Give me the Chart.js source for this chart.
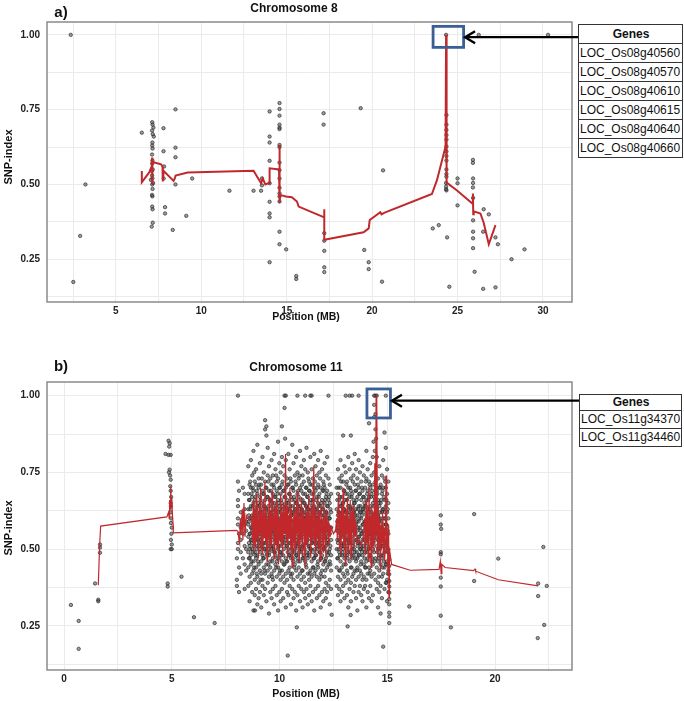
<!DOCTYPE html>
<html>
<head>
<meta charset="utf-8">
<script src="https://cdn.jsdelivr.net/npm/chart.js@4.4.0/dist/chart.umd.min.js"></script>
<style>
  body { margin: 0; background: #fff; font-family: 'Liberation Sans', Arial, sans-serif; }
  #wrap { position: relative; width: 684px; height: 701px; overflow: hidden; }
  canvas { position: absolute; left: 0; }
  .txt { position: absolute; transform: translate(-50%, -50%); white-space: nowrap; font-weight: bold; color: #111; }
  .rot { transform: translate(-50%, -50%) rotate(-90deg); }
  .genes { position: absolute; border: 1.5px solid #333; background: #fff; font-size: 12px; color: #111; }
  .genes div { box-sizing: border-box; border-top: 1.5px solid #333; padding-left: 1px; }
  .genes div.hd { border-top: none; text-align: center; font-weight: bold; }
</style>
</head>
<body>
<div id="wrap">
  <canvas id="chartA" width="684" height="330" style="top:0"></canvas>
  <canvas id="chartB" width="684" height="361" style="top:340px"></canvas>

  <div class="txt" style="left:61px;top:11px;font-size:15px">a)</div>
  <div class="txt" style="left:294px;top:8px;font-size:12px">Chromosome 8</div>
  <div class="txt rot" style="left:8px;top:157px;font-size:11px">SNP-index</div>
  <div class="txt" style="left:306px;top:316px;font-size:10.5px">Position (MB)</div>

  <div class="txt" style="left:61px;top:365px;font-size:15px">b)</div>
  <div class="txt" style="left:296px;top:367px;font-size:12px">Chromosome 11</div>
  <div class="txt rot" style="left:8px;top:528px;font-size:11px">SNP-index</div>
  <div class="txt" style="left:306px;top:693px;font-size:10.5px">Position (MB)</div>

  <div class="genes" id="genesA" style="left:578px;top:24px;width:103px"></div>
  <div class="genes" id="genesB" style="left:579px;top:394px;width:101px"></div>
</div>
<script>
// ---- chromosome 8 : SNP-index points ----
const chr8Pos = [2.36, 3.22, 2.91, 2.51, 6.52,
  7.13, 7.15, 7.12, 7.16, 7.14, 7.13, 7.15, 7.12, 7.14, 7.13, 7.16, 7.12, 7.14, 7.13, 7.15, 7.12, 7.14, 7.13, 7.15, 7.16, 7.10, 7.20, 7.22, 7.10, 7.18, 7.05,
  7.79, 7.79, 7.82, 7.80, 7.88, 7.88, 8.49, 8.49, 8.49, 8.49, 8.33, 9.12, 9.47,
  11.65, 13.06, 13.50, 13.55, 13.55,
  14.0, 14.0, 14.0, 14.0, 14.0, 14.0, 14.0, 14.0, 14.0,
  14.58, 14.58, 14.58, 14.58, 14.58, 14.58, 14.58, 14.58, 14.58, 14.58, 14.58, 14.58, 14.58, 14.58, 14.58, 14.58, 14.58,
  14.97, 15.56, 15.56, 17.16, 17.16, 17.2, 17.2, 17.2, 17.2, 17.2,
  19.33, 19.54, 19.8, 19.8, 20.58, 20.64, 23.55, 23.9, 24.39, 24.52,
  24.33, 24.35, 24.35, 24.35, 24.35, 24.35, 24.35, 24.35, 24.35, 24.35, 24.35, 24.35, 24.35, 24.33, 24.33, 24.33, 24.35,
  25.0, 25.0, 25.0, 25.9, 25.9, 25.91, 25.91, 25.9, 25.91, 25.91, 25.91, 25.91, 25.91, 26.0,
  26.24, 30.3, 26.53, 26.83, 26.5, 26.5, 27.22, 27.36, 27.22, 28.16, 28.92];
const chr8Snp = [1.0, 0.50, 0.328, 0.174, 0.673,
  0.708, 0.70, 0.68, 0.668, 0.64, 0.63, 0.62, 0.60, 0.58, 0.57, 0.55, 0.53, 0.52, 0.50, 0.485, 0.465, 0.46, 0.426, 0.417, 0.372, 0.359, 0.69, 0.66, 0.545, 0.505, 0.515,
  0.688, 0.611, 0.56, 0.52, 0.424, 0.403, 0.751, 0.623, 0.591, 0.50, 0.348, 0.395, 0.52,
  0.479, 0.479, 0.479, 0.52, 0.497,
  0.744, 0.66, 0.64, 0.579, 0.504, 0.442, 0.403, 0.39, 0.24,
  0.772, 0.752, 0.73, 0.70, 0.69, 0.685, 0.632, 0.625, 0.573, 0.548, 0.52, 0.489, 0.47, 0.46, 0.443, 0.342, 0.30,
  0.283, 0.194, 0.184, 0.738, 0.70, 0.337, 0.312, 0.278, 0.223, 0.207,
  0.755, 0.281, 0.24, 0.217, 0.175, 0.547, 0.353, 0.364, 0.323, 0.158,
  1.0, 0.732, 0.70, 0.682, 0.665, 0.65, 0.627, 0.61, 0.595, 0.58, 0.55, 0.535, 0.526, 0.505, 0.493, 0.484, 0.48,
  0.52, 0.504, 0.43, 0.582, 0.572, 0.52, 0.505, 0.49, 0.455, 0.38, 0.342, 0.32, 0.287, 0.208,
  1.0, 1.0, 0.417, 0.40, 0.342, 0.151, 0.323, 0.30, 0.156, 0.25, 0.283];

// chromosome 8 : sliding average (red line)
const chr8LinePos = [6.52, 6.52, 6.95, 7.1, 7.12, 7.13, 7.15, 7.65, 7.73, 7.75, 7.8, 8.38, 8.45, 8.5, 9.2, 13.06,
  13.5, 13.6, 13.75, 13.98, 14.0, 14.55, 14.57, 14.6, 14.62, 14.95, 15.3, 15.6, 15.7, 17.2, 17.2, 17.2,
  19.5, 19.8, 19.86, 20.48, 20.55, 20.7, 23.5, 23.8, 24.3, 24.33, 24.36, 24.5, 24.97, 25.85, 25.9, 25.92,
  25.95, 26.34, 26.53, 26.83, 27.22];
const chr8LineSnp = [0.545, 0.507, 0.54, 0.56, 0.59, 0.50, 0.575, 0.567, 0.56, 0.51, 0.545, 0.512, 0.52, 0.53, 0.54, 0.546,
  0.504, 0.52, 0.50, 0.505, 0.554, 0.55, 0.632, 0.438, 0.465, 0.46, 0.457, 0.443, 0.426, 0.39, 0.417, 0.315,
  0.34, 0.353, 0.381, 0.407, 0.40, 0.405, 0.468, 0.515, 0.627, 1.0, 0.505, 0.50, 0.48, 0.437, 0.47, 0.40,
  0.41, 0.403, 0.372, 0.30, 0.364];

// ---- chromosome 11 : sparse points ----
const chr11Pos = [0.32, 0.68, 0.68, 1.44, 1.59, 1.59, 1.67, 1.67, 1.67,
  4.81, 4.81, 4.71, 4.85, 4.9, 4.88, 4.95, 4.85, 4.9, 4.87, 4.92, 4.95, 4.93, 4.95, 4.97, 4.95, 4.96, 4.95, 4.97, 4.96, 5.0, 4.98, 4.96, 5.0, 4.95, 5.0,
  5.45, 6.03, 6.99, 8.86, 10.38, 10.8, 12.42, 13.16, 13.3, 14.81,
  15.09, 15.09, 15.09, 15.09, 15.09, 15.09, 15.09, 15.09, 15.09, 15.09, 15.09,
  16.02, 17.48, 17.48, 17.5, 17.48, 17.48, 17.48, 17.48, 17.48, 17.95, 19.03, 19.03, 20.15,
  22.24, 22.0, 22.4, 22.0, 22.28, 21.98];
const chr11Snp = [0.318, 0.266, 0.175, 0.388, 0.335, 0.33, 0.515, 0.505, 0.488,
  0.388, 0.378, 0.81, 0.853, 0.845, 0.834, 0.807, 0.807, 0.759, 0.75, 0.74, 0.726, 0.705, 0.69, 0.67, 0.65, 0.64, 0.62, 0.60, 0.585, 0.57, 0.55, 0.53, 0.515, 0.50, 0.50,
  0.41, 0.278, 0.259, 0.30, 0.153, 0.245, 0.286, 0.248, 0.285, 0.182,
  0.466, 0.445, 0.418, 0.396, 0.378, 0.358, 0.337, 0.32, 0.293, 0.28, 0.259,
  0.313, 0.61, 0.58, 0.566, 0.49, 0.483, 0.407, 0.378, 0.283, 0.245, 0.614, 0.396, 0.469,
  0.507, 0.388, 0.38, 0.347, 0.253, 0.21];

// chromosome 11 : dense region, one list of SNP-index values per position
const chr11ColPos = [8.02, 8.07, 8.12, 8.2, 8.3, 8.38, 8.45,
  8.55, 8.61, 8.67, 8.73, 8.79, 8.85, 8.91, 8.97, 9.03, 9.09, 9.15, 9.21, 9.27, 9.33, 9.39, 9.45, 9.51, 9.57,
  9.63, 9.69, 9.75, 9.81, 9.87, 9.93, 9.99, 10.05, 10.11, 10.17, 10.23, 10.29, 10.35, 10.41, 10.47, 10.53,
  10.59, 10.65, 10.71, 10.77, 10.83, 10.89, 10.95, 11.01, 11.07, 11.13, 11.19, 11.25, 11.31, 11.37, 11.43,
  11.49, 11.55, 11.61, 11.67, 11.73, 11.79, 11.85, 11.91, 11.97, 12.03, 12.09, 12.15, 12.21, 12.27, 12.33, 12.39,
  12.65, 12.71, 12.77, 12.83, 12.89, 12.95, 13.01, 13.07, 13.13, 13.19, 13.25, 13.31, 13.37, 13.43, 13.49,
  13.55, 13.61, 13.67, 13.73, 13.79, 13.85, 13.91, 13.97, 14.03, 14.09, 14.15, 14.21, 14.27, 14.33, 14.39,
  14.45, 14.51, 14.57, 14.63, 14.69, 14.75, 14.81, 14.87, 14.93, 14.99, 15.05];
const chr11ColSnp = [
  [0.47, 0.40, 0.38], [1.00, 0.72, 0.66, 0.64, 0.60, 0.58, 0.52, 0.50], [0.69, 0.55, 0.44, 0.36],
  [0.62, 0.57, 0.53, 0.49, 0.42], [0.70, 0.60, 0.55, 0.47], [0.68, 0.63, 0.58, 0.51, 0.45, 0.37], [0.59, 0.56, 0.50, 0.43],
  [0.77, 0.68, 0.63, 0.58, 0.54, 0.49, 0.44, 0.38], [0.71, 0.66, 0.60, 0.55, 0.51, 0.47, 0.41, 0.33],
  [0.79, 0.70, 0.64, 0.57, 0.53, 0.48, 0.45, 0.39], [0.74, 0.67, 0.61, 0.56, 0.52, 0.50, 0.42, 0.36],
  [0.82, 0.69, 0.65, 0.59, 0.54, 0.46, 0.43, 0.30], [0.72, 0.66, 0.62, 0.57, 0.55, 0.49, 0.40, 0.35],
  [0.76, 0.71, 0.63, 0.60, 0.53, 0.47, 0.44, 0.37], [0.84, 0.68, 0.64, 0.58, 0.51, 0.48, 0.41, 0.32],
  [0.73, 0.70, 0.61, 0.56, 0.52, 0.45, 0.39, 0.34], [0.78, 0.67, 0.62, 0.59, 0.54, 0.50, 0.43, 0.36],
  [0.71, 0.65, 0.60, 0.57, 0.53, 0.46, 0.42, 0.31], [0.80, 0.69, 0.63, 0.55, 0.51, 0.48, 0.40, 0.38],
  [0.75, 0.68, 0.64, 0.58, 0.52, 0.47, 0.44, 0.35], [0.92, 0.89, 0.72, 0.66, 0.61, 0.56, 0.50, 0.42, 0.37],
  [0.90, 0.87, 0.70, 0.63, 0.59, 0.54, 0.49, 0.45, 0.33], [0.83, 0.74, 0.67, 0.60, 0.55, 0.51, 0.43, 0.39],
  [0.77, 0.69, 0.62, 0.58, 0.53, 0.48, 0.41, 0.29], [0.73, 0.66, 0.61, 0.57, 0.52, 0.46, 0.44, 0.36],
  [0.79, 0.71, 0.64, 0.59, 0.54, 0.50, 0.42, 0.34], [0.74, 0.68, 0.62, 0.56, 0.51, 0.47, 0.40, 0.37],
  [0.81, 0.70, 0.65, 0.60, 0.55, 0.49, 0.43, 0.32], [0.76, 0.67, 0.63, 0.58, 0.53, 0.48, 0.45, 0.38],
  [0.72, 0.69, 0.61, 0.57, 0.52, 0.46, 0.41, 0.35], [0.85, 0.73, 0.66, 0.59, 0.54, 0.50, 0.44, 0.30],
  [0.78, 0.70, 0.64, 0.60, 0.55, 0.47, 0.42, 0.36], [0.75, 0.68, 0.62, 0.56, 0.51, 0.49, 0.40, 0.33],
  [0.90, 0.80, 0.71, 0.65, 0.58, 0.53, 0.46, 0.43, 0.37], [0.77, 0.69, 0.63, 0.59, 0.54, 0.48, 0.41, 0.34],
  [1.00, 0.96, 0.74, 0.67, 0.61, 0.56, 0.52, 0.45, 0.39], [1.00, 0.79, 0.70, 0.64, 0.58, 0.53, 0.47, 0.42, 0.31],
  [0.73, 0.66, 0.62, 0.57, 0.51, 0.46, 0.40, 0.36], [0.81, 0.71, 0.65, 0.60, 0.55, 0.50, 0.43, 0.35],
  [0.76, 0.68, 0.63, 0.58, 0.52, 0.48, 0.44, 0.38], [0.72, 0.67, 0.61, 0.56, 0.54, 0.47, 0.41, 0.32],
  [0.84, 0.70, 0.64, 0.59, 0.53, 0.49, 0.42, 0.37], [0.78, 0.69, 0.62, 0.57, 0.52, 0.46, 0.40, 0.34],
  [0.74, 0.66, 0.63, 0.60, 0.55, 0.50, 0.45, 0.36], [0.80, 0.71, 0.65, 0.58, 0.53, 0.48, 0.43, 0.30],
  [1.00, 0.75, 0.68, 0.62, 0.56, 0.51, 0.47, 0.41, 0.35], [0.73, 0.67, 0.61, 0.57, 0.52, 0.49, 0.44, 0.38],
  [0.82, 0.70, 0.64, 0.59, 0.54, 0.46, 0.42, 0.33], [0.77, 0.69, 0.63, 0.58, 0.53, 0.50, 0.40, 0.37],
  [0.74, 0.66, 0.62, 0.56, 0.51, 0.47, 0.43, 0.31], [0.79, 0.72, 0.65, 0.60, 0.55, 0.48, 0.41, 0.36],
  [1.00, 0.76, 0.68, 0.61, 0.57, 0.52, 0.46, 0.39, 0.34], [0.83, 0.70, 0.64, 0.59, 0.54, 0.49, 0.44, 0.37],
  [0.75, 0.67, 0.63, 0.58, 0.53, 0.47, 0.42, 0.32], [0.72, 0.69, 0.62, 0.56, 0.51, 0.48, 0.40, 0.35],
  [1.00, 0.80, 0.71, 0.65, 0.60, 0.55, 0.50, 0.43, 0.38], [1.00, 0.76, 0.68, 0.63, 0.57, 0.52, 0.46, 0.41, 0.33],
  [0.73, 0.66, 0.61, 0.58, 0.53, 0.49, 0.44, 0.36], [0.81, 0.70, 0.64, 0.59, 0.54, 0.47, 0.42, 0.30],
  [0.77, 0.69, 0.62, 0.57, 0.52, 0.48, 0.43, 0.37], [0.74, 0.67, 0.63, 0.60, 0.55, 0.50, 0.41, 0.34],
  [0.79, 0.71, 0.65, 0.58, 0.53, 0.46, 0.44, 0.38], [0.75, 0.68, 0.62, 0.56, 0.51, 0.49, 0.40, 0.35],
  [0.82, 0.70, 0.64, 0.59, 0.54, 0.47, 0.42, 0.31], [0.76, 0.66, 0.61, 0.57, 0.52, 0.48, 0.43, 0.36],
  [0.72, 0.69, 0.63, 0.58, 0.55, 0.50, 0.45, 0.33], [0.78, 0.70, 0.65, 0.60, 0.53, 0.46, 0.41, 0.37],
  [0.74, 0.67, 0.62, 0.56, 0.51, 0.47, 0.39, 0.34], [0.80, 0.69, 0.64, 0.59, 0.54, 0.49, 0.44, 0.36],
  [1.00, 0.73, 0.66, 0.61, 0.57, 0.52, 0.45, 0.38], [0.71, 0.65, 0.60, 0.55, 0.50, 0.46, 0.40, 0.32],
  [0.68, 0.62, 0.57, 0.53, 0.48, 0.43, 0.37],
  [0.70, 0.63, 0.56, 0.50, 0.44, 0.38], [0.76, 0.68, 0.61, 0.57, 0.52, 0.47, 0.41, 0.35],
  [0.73, 0.66, 0.62, 0.58, 0.53, 0.49, 0.43, 0.37], [0.79, 0.70, 0.64, 0.59, 0.54, 0.46, 0.40, 0.33],
  [0.74, 0.67, 0.61, 0.56, 0.51, 0.48, 0.44, 0.36], [0.87, 0.72, 0.65, 0.60, 0.55, 0.50, 0.42, 0.38],
  [0.77, 0.69, 0.63, 0.57, 0.52, 0.47, 0.41, 0.34], [1.00, 0.75, 0.68, 0.62, 0.58, 0.53, 0.45, 0.39],
  [0.72, 0.66, 0.60, 0.56, 0.51, 0.48, 0.43, 0.35], [0.80, 0.70, 0.64, 0.59, 0.54, 0.49, 0.40, 0.31],
  [1.00, 0.76, 0.67, 0.62, 0.57, 0.52, 0.46, 0.37], [0.87, 0.73, 0.69, 0.63, 0.58, 0.53, 0.44, 0.39, 0.33],
  [1.00, 0.78, 0.68, 0.61, 0.56, 0.50, 0.47, 0.41], [0.74, 0.66, 0.62, 0.57, 0.52, 0.48, 0.42, 0.36],
  [0.81, 0.71, 0.65, 0.60, 0.55, 0.49, 0.43, 0.38], [0.76, 0.69, 0.63, 0.58, 0.53, 0.46, 0.40, 0.34],
  [0.73, 0.67, 0.61, 0.56, 0.51, 0.47, 0.44, 0.30], [1.00, 0.79, 0.70, 0.64, 0.59, 0.54, 0.48, 0.41, 0.36],
  [0.75, 0.68, 0.62, 0.57, 0.52, 0.50, 0.43, 0.38], [0.72, 0.66, 0.60, 0.55, 0.51, 0.46, 0.42, 0.35],
  [0.77, 0.69, 0.63, 0.58, 0.53, 0.48, 0.40, 0.33], [0.74, 0.67, 0.62, 0.56, 0.50, 0.45, 0.41, 0.37],
  [0.70, 0.64, 0.59, 0.54, 0.49, 0.44, 0.38], [0.82, 0.73, 0.66, 0.61, 0.56, 0.51, 0.46, 0.40, 0.31],
  [0.76, 0.69, 0.63, 0.58, 0.53, 0.47, 0.42, 0.36], [0.91, 0.72, 0.67, 0.60, 0.55, 0.50, 0.44, 0.34],
  [0.78, 0.70, 0.64, 0.59, 0.54, 0.48, 0.43, 0.38], [0.74, 0.68, 0.62, 0.57, 0.52, 0.46, 0.41, 0.33],
  [0.80, 0.71, 0.65, 0.60, 0.55, 0.50, 0.45, 0.35], [1.00, 0.97, 0.93, 0.75, 0.67, 0.61, 0.56, 0.49, 0.42],
  [1.00, 0.94, 0.89, 0.72, 0.64, 0.58, 0.53, 0.47, 0.40], [1.00, 0.80, 0.69, 0.63, 0.57, 0.51, 0.44, 0.37],
  [0.73, 0.66, 0.61, 0.55, 0.50, 0.46, 0.39, 0.31], [0.77, 0.70, 0.64, 0.59, 0.54, 0.48, 0.43, 0.36],
  [0.71, 0.65, 0.60, 0.56, 0.52, 0.45, 0.38, 0.29], [0.74, 0.68, 0.62, 0.57, 0.51, 0.47, 0.41, 0.34],
  [0.79, 0.70, 0.63, 0.58, 0.53, 0.48, 0.42], [0.88, 0.73, 0.66, 0.60, 0.55, 0.49, 0.44, 0.37],
  [1.00, 0.83, 0.70, 0.64, 0.58, 0.52, 0.45, 0.39], [0.76, 0.68, 0.62, 0.57, 0.51, 0.46, 0.40, 0.33],
  [0.72, 0.65, 0.60, 0.55, 0.50, 0.43, 0.36]];

// chromosome 11 : extra points in the dense core (between the columns above)
const chr11Col2Pos = [8.58, 8.64, 8.70, 8.76, 8.82, 8.88, 8.94, 9.00, 9.06, 9.12, 9.18, 9.24, 9.30, 9.36, 9.42,
  9.48, 9.54, 9.60, 9.66, 9.72, 9.78, 9.84, 9.90, 9.96, 10.02, 10.08, 10.14, 10.20, 10.26, 10.32, 10.38,
  10.44, 10.50, 10.56, 10.62, 10.68, 10.74, 10.80, 10.86, 10.92, 10.98, 11.04, 11.10, 11.16, 11.22, 11.28,
  11.34, 11.40, 11.46, 11.52, 11.58, 11.64, 11.70, 11.76, 11.82, 11.88, 11.94, 12.00, 12.06, 12.12, 12.18,
  12.24, 12.30, 12.36,
  12.68, 12.74, 12.80, 12.86, 12.92, 12.98, 13.04, 13.10, 13.16, 13.22, 13.28, 13.34, 13.40, 13.46, 13.52,
  13.58, 13.64, 13.70, 13.76, 13.82, 13.88, 13.94, 14.00, 14.06, 14.12, 14.18, 14.24, 14.30, 14.36, 14.42,
  14.48, 14.54, 14.60, 14.66, 14.72, 14.78, 14.84, 14.90, 14.96, 15.02];
const chr11Col2Snp = [
  [0.66, 0.59, 0.52, 0.47, 0.61], [0.72, 0.63, 0.55, 0.50], [0.68, 0.60, 0.57, 0.46, 0.53], [0.64, 0.58, 0.49, 0.70],
  [0.75, 0.61, 0.56, 0.51, 0.44], [0.67, 0.60, 0.54, 0.48], [0.69, 0.62, 0.57, 0.50, 0.42], [0.65, 0.59, 0.53, 0.46],
  [0.71, 0.64, 0.56, 0.51], [0.66, 0.61, 0.55, 0.49, 0.40], [0.73, 0.62, 0.58, 0.52], [0.68, 0.60, 0.54, 0.47],
  [0.64, 0.59, 0.56, 0.50, 0.43], [0.70, 0.63, 0.57, 0.52], [0.67, 0.61, 0.55, 0.48], [0.72, 0.64, 0.58, 0.50, 0.45],
  [0.66, 0.60, 0.54, 0.49], [0.69, 0.62, 0.57, 0.51], [0.65, 0.59, 0.53, 0.46, 0.41], [0.71, 0.63, 0.56, 0.50],
  [0.67, 0.61, 0.55, 0.49], [0.74, 0.64, 0.58, 0.52, 0.44], [0.68, 0.60, 0.54, 0.47], [0.65, 0.62, 0.57, 0.51],
  [0.70, 0.63, 0.55, 0.49, 0.43], [0.66, 0.59, 0.53, 0.48], [0.72, 0.64, 0.58, 0.52], [0.69, 0.61, 0.56, 0.50, 0.45],
  [0.86, 0.67, 0.60, 0.54], [0.65, 0.62, 0.57, 0.51, 0.46], [0.71, 0.63, 0.55, 0.49], [0.68, 0.60, 0.54, 0.48],
  [0.73, 0.64, 0.58, 0.52, 0.42], [0.66, 0.61, 0.56, 0.50], [0.70, 0.62, 0.55, 0.47], [0.67, 0.59, 0.53, 0.49, 0.44],
  [0.72, 0.63, 0.57, 0.51], [0.65, 0.60, 0.54, 0.48], [0.69, 0.64, 0.58, 0.52, 0.46], [0.74, 0.62, 0.56, 0.50],
  [0.66, 0.61, 0.55, 0.49], [0.71, 0.63, 0.57, 0.51, 0.43], [0.68, 0.60, 0.54, 0.47], [0.65, 0.62, 0.56, 0.50],
  [0.70, 0.64, 0.58, 0.52, 0.45], [0.67, 0.59, 0.53, 0.48], [0.73, 0.63, 0.57, 0.51], [0.69, 0.61, 0.55, 0.49, 0.42],
  [0.66, 0.60, 0.54, 0.50], [0.71, 0.64, 0.58, 0.52], [0.68, 0.62, 0.56, 0.47, 0.44], [0.72, 0.63, 0.55, 0.50],
  [0.66, 0.60, 0.54, 0.48], [0.70, 0.61, 0.57, 0.51, 0.45], [0.67, 0.64, 0.58, 0.52], [0.73, 0.62, 0.56, 0.49],
  [0.65, 0.59, 0.53, 0.47, 0.41], [0.69, 0.63, 0.57, 0.51], [0.71, 0.61, 0.55, 0.50], [0.66, 0.60, 0.54, 0.46, 0.43],
  [0.68, 0.62, 0.56, 0.52], [0.64, 0.58, 0.53, 0.48], [0.67, 0.60, 0.55, 0.49], [0.63, 0.57, 0.51, 0.45],
  [0.66, 0.59, 0.53, 0.47], [0.70, 0.62, 0.56, 0.50], [0.67, 0.60, 0.55, 0.48, 0.43], [0.72, 0.64, 0.57, 0.52],
  [0.65, 0.61, 0.54, 0.49], [0.69, 0.63, 0.58, 0.51, 0.45], [0.66, 0.60, 0.55, 0.48], [0.71, 0.62, 0.56, 0.50],
  [0.68, 0.59, 0.53, 0.47, 0.42], [0.64, 0.61, 0.57, 0.52], [0.70, 0.63, 0.55, 0.49], [0.67, 0.60, 0.54, 0.48, 0.44],
  [0.72, 0.64, 0.58, 0.51], [0.65, 0.62, 0.56, 0.50], [0.69, 0.61, 0.55, 0.47], [0.66, 0.59, 0.53, 0.49, 0.43],
  [0.71, 0.63, 0.57, 0.52], [0.68, 0.60, 0.54, 0.48], [0.64, 0.62, 0.56, 0.50, 0.45], [0.70, 0.61, 0.55, 0.49],
  [0.67, 0.63, 0.58, 0.51], [0.65, 0.59, 0.53, 0.47], [0.72, 0.64, 0.57, 0.52, 0.44], [0.68, 0.60, 0.54, 0.49],
  [0.66, 0.62, 0.56, 0.50], [0.71, 0.63, 0.55, 0.48, 0.42], [0.67, 0.61, 0.57, 0.51], [0.69, 0.59, 0.53, 0.47],
  [0.85, 0.64, 0.58, 0.52], [0.82, 0.66, 0.60, 0.54, 0.46], [0.86, 0.70, 0.62, 0.55], [0.68, 0.61, 0.56, 0.49],
  [0.65, 0.60, 0.53, 0.47, 0.41], [0.70, 0.62, 0.57, 0.50], [0.66, 0.59, 0.54, 0.48], [0.69, 0.63, 0.55, 0.51, 0.44],
  [0.67, 0.60, 0.53, 0.46], [0.72, 0.62, 0.56, 0.50], [0.66, 0.58, 0.52, 0.45, 0.39], [0.63, 0.56, 0.49, 0.42]];

// chromosome 11 : sliding average (red line)
const chr11LinePos = [1.59, 1.65, 1.70, 4.77, 4.85, 4.88, 4.9, 4.93, 4.95, 4.97, 5.0, 5.03, 5.06, 5.07, 8.0, 8.07,
  8.12, 8.15, 8.18, 8.22, 8.27, 8.3, 8.35, 8.4, 8.45, 8.5, 8.7,
  8.75, 8.78, 8.81, 8.85, 8.88, 8.92, 8.95, 8.98, 9.02, 9.05, 9.08, 9.12, 9.15, 9.18, 9.22, 9.25, 9.28, 9.32,
  9.35, 9.38, 9.42, 9.45, 9.48, 9.52, 9.55, 9.58, 9.62, 9.65, 9.68, 9.72, 9.75, 9.78, 9.82, 9.85, 9.88, 9.92,
  9.95, 9.98, 10.02, 10.05, 10.08, 10.12, 10.15, 10.18, 10.22, 10.25, 10.28, 10.31, 10.35, 10.38, 10.42, 10.45,
  10.48, 10.52, 10.55, 10.58, 10.62, 10.65, 10.68, 10.72, 10.75, 10.78, 10.82, 10.85, 10.88, 10.92, 10.95,
  10.98, 11.02, 11.05, 11.08, 11.12, 11.15, 11.18, 11.22, 11.25, 11.28, 11.32, 11.35, 11.38, 11.42, 11.45,
  11.48, 11.52, 11.55, 11.59, 11.62, 11.65, 11.68, 11.72, 11.75, 11.78, 11.82, 11.85, 11.88, 11.92, 11.95,
  11.98, 12.02, 12.05, 12.08, 12.12, 12.15, 12.18, 12.22, 12.25, 12.28, 12.32, 12.36, 12.4, 12.5, 12.6,
  12.65, 12.68, 12.72, 12.75, 12.78, 12.82, 12.85, 12.88, 12.92, 12.95, 12.98, 13.02, 13.05, 13.08, 13.12,
  13.15, 13.18, 13.22, 13.25, 13.28, 13.32, 13.35, 13.38, 13.42, 13.45, 13.48, 13.52, 13.55, 13.6, 13.7,
  13.8, 13.9, 13.95, 13.98, 14.02, 14.05, 14.08, 14.12, 14.15, 14.18, 14.22, 14.25, 14.28, 14.32, 14.35,
  14.38, 14.42, 14.45, 14.48, 14.5, 14.52, 14.55, 14.58, 14.62, 14.65, 14.68, 14.72, 14.75, 14.78, 14.82,
  14.85, 14.88, 14.92, 14.94, 14.97, 15.0, 15.03, 15.06, 15.08, 15.1, 15.2,
  16.06, 17.4, 17.46, 17.5, 17.53, 17.68, 19.0, 19.07, 19.1, 20.15, 22.0];
const chr11LineSnp = [0.382, 0.51, 0.575, 0.605, 0.62, 0.60, 0.66, 0.63, 0.705, 0.64, 0.67, 0.61, 0.58, 0.553, 0.561, 0.558,
  0.53, 0.52, 0.60, 0.55, 0.63, 0.53, 0.65, 0.54, 0.61, 0.60, 0.605,
  0.52, 0.66, 0.49, 0.63, 0.51, 0.68, 0.53, 0.61, 0.47, 0.64, 0.55, 0.70, 0.50, 0.62, 0.48, 0.66, 0.54, 0.72,
  0.52, 0.63, 0.46, 0.60, 0.53, 0.67, 0.49, 0.62, 0.51, 0.69, 0.56, 0.61, 0.47, 0.64, 0.52, 0.66, 0.50, 0.63,
  0.45, 0.60, 0.53, 0.68, 0.51, 0.62, 0.48, 0.65, 0.55, 0.59, 0.81, 0.52, 0.64, 0.47, 0.61, 0.54,
  0.70, 0.50, 0.63, 0.44, 0.60, 0.52, 0.66, 0.49, 0.62, 0.55, 0.69, 0.51, 0.64, 0.46, 0.61,
  0.53, 0.67, 0.48, 0.63, 0.55, 0.60, 0.44, 0.65, 0.52, 0.62, 0.50, 0.68, 0.54, 0.61, 0.47,
  0.64, 0.53, 0.66, 0.77, 0.51, 0.63, 0.48, 0.60, 0.54, 0.67, 0.50, 0.62, 0.46, 0.64, 0.55,
  0.60, 0.49, 0.66, 0.53, 0.61, 0.47, 0.63, 0.56, 0.59, 0.51, 0.58, 0.54, 0.57, 0.55, 0.56,
  0.60, 0.53, 0.65, 0.68, 0.50, 0.62, 0.48, 0.64, 0.54, 0.70, 0.51, 0.61, 0.45, 0.63, 0.55,
  0.67, 0.49, 0.60, 0.53, 0.66, 0.47, 0.62, 0.56, 0.64, 0.50, 0.61, 0.54, 0.59, 0.52, 0.53,
  0.51, 0.55, 0.60, 0.48, 0.66, 0.52, 0.63, 0.46, 0.70, 0.55, 0.61, 0.44, 0.64, 0.51, 0.62,
  0.49, 0.78, 0.53, 1.00, 0.55, 1.00, 0.47, 0.64, 0.50, 0.60, 0.43, 0.58, 0.52, 0.62, 0.48,
  0.57, 0.46, 0.60, 0.74, 0.50, 0.56, 0.42, 0.58, 0.34, 0.50, 0.45,
  0.431, 0.434, 0.46, 0.42, 0.45, 0.44, 0.43, 0.435, 0.428, 0.40, 0.38];

const genesA = ['LOC_Os08g40560', 'LOC_Os08g40570', 'LOC_Os08g40610', 'LOC_Os08g40615', 'LOC_Os08g40640', 'LOC_Os08g40660'];
const genesB = ['LOC_Os11g34370', 'LOC_Os11g34460'];

const FONT = "'Liberation Sans', Arial, sans-serif";

function pairs(xs, ys) {
    return xs.map((x, i) => ({x: x, y: ys[i]}));
}

function columns(xs, cols) {
    const out = [];
    xs.forEach((x, i) => cols[i].forEach(v => out.push({x: x, y: v})));
    return out;
}

function fillGenes(id, names, headH, rowH) {
    const box = document.getElementById(id);
    let html = '<div class="hd" style="height:' + headH + 'px;line-height:' + headH + 'px">Genes</div>';
    names.forEach(n => {
        html += '<div style="height:' + rowH + 'px;line-height:' + (rowH - 1) + 'px">' + n + '</div>';
    });
    box.innerHTML = html;
}
fillGenes('genesA', genesA, 18, 19);
fillGenes('genesB', genesB, 15, 18);

// panel frame, highlight box and arrow
const panelDecor = {
    id: 'panelDecor',
    afterDatasetsDraw(chart, args, o) {
        const {ctx, chartArea: a, scales} = chart;
        ctx.save();
        ctx.strokeStyle = '#8a8a8a';
        ctx.lineWidth = 1.5;
        ctx.strokeRect(a.left, a.top, a.right - a.left, a.bottom - a.top);

        const px = scales.x.getPixelForValue(o.peakX);
        const py = scales.y.getPixelForValue(o.peakY);
        ctx.strokeStyle = '#3a5f95';
        ctx.lineWidth = 2.8;
        ctx.strokeRect(px + o.box[0], py + o.box[1], o.box[2] - o.box[0], o.box[3] - o.box[1]);

        const ay = py + o.arrowDy;
        const tip = px + o.box[2] + 1.5;
        ctx.strokeStyle = '#000';
        ctx.lineWidth = 2.4;
        ctx.beginPath();
        ctx.moveTo(o.arrowEnd, ay);
        ctx.lineTo(tip + 1, ay);
        ctx.stroke();
        ctx.beginPath();
        ctx.moveTo(tip + 10, ay - 6);
        ctx.lineTo(tip, ay);
        ctx.lineTo(tip + 10, ay + 6);
        ctx.stroke();
        ctx.restore();
    }
};

function makeChart(id, points, line, lineWidth, sc, decor) {
    return new Chart(document.getElementById(id), {
        type: 'scatter',
        data: {
            datasets: [{
                data: line,
                showLine: true,
                borderColor: '#c0282b',
                borderWidth: lineWidth,
                pointRadius: 0,
                order: 0
            }, {
                data: points,
                pointRadius: 1.7,
                pointBackgroundColor: 'rgba(60,60,60,0.5)',
                pointBorderColor: 'rgba(40,40,40,0.85)',
                pointBorderWidth: 0.8,
                order: 1
            }]
        },
        options: {
            responsive: false,
            animation: false,
            devicePixelRatio: 1,
            layout: {padding: {top: sc.padTop, right: 684 - sc.right, left: 0, bottom: 0}},
            plugins: {legend: {display: false}, tooltip: {enabled: false}, panelDecor: decor},
            scales: {
                x: {
                    type: 'linear', min: sc.xMin, max: sc.xMax,
                    border: {display: false},
                    grid: {color: '#ebebeb', drawTicks: false},
                    ticks: {
                        stepSize: 2.5, includeBounds: false, autoSkip: false, maxRotation: 0, padding: 3,
                        color: '#222', font: {size: 10, weight: 'bold', family: FONT},
                        callback: v => Math.abs(v / 5 - Math.round(v / 5)) < 1e-6 ? String(Math.round(v)) : ''
                    },
                    afterFit: s => { s.height = sc.xHeight; }
                },
                y: {
                    type: 'linear', min: sc.yMin, max: sc.yMax,
                    border: {display: false},
                    grid: {color: '#ebebeb', drawTicks: false},
                    ticks: {
                        stepSize: 0.125, includeBounds: false, autoSkip: false, padding: 7,
                        color: '#222', font: {size: 10, weight: 'bold', family: FONT},
                        callback: v => Math.abs(v * 4 - Math.round(v * 4)) < 1e-6 ? v.toFixed(2) : ''
                    },
                    afterFit: s => { s.width = 47; }
                }
            }
        },
        plugins: [panelDecor]
    });
}

makeChart('chartA', pairs(chr8Pos, chr8Snp), pairs(chr8LinePos, chr8LineSnp), 2,
    {padTop: 22, right: 572, xMin: 0.97, xMax: 31.7, yMin: 0.107, yMax: 1.043, xHeight: 28},
    {peakX: 24.33, peakY: 1.0, box: [-13, -8.5, 17.5, 12.5], arrowDy: 2.3, arrowEnd: 578});

makeChart('chartB',
    columns(chr11ColPos, chr11ColSnp).concat(columns(chr11Col2Pos, chr11Col2Snp), pairs(chr11Pos, chr11Snp)),
    pairs(chr11LinePos, chr11LineSnp), 1.2,
    {padTop: 42, right: 572, xMin: -0.79, xMax: 23.57, yMin: 0.106, yMax: 1.0445, xHeight: 31},
    {peakX: 14.45, peakY: 1.0, box: [-8.5, -6.7, 15, 22.3], arrowDy: 5, arrowEnd: 579});
</script>
</body>
</html>
